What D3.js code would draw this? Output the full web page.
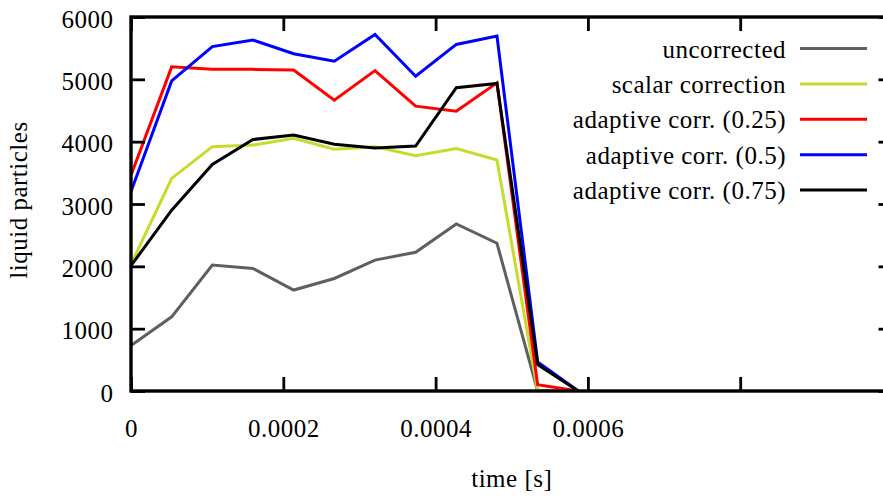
<!DOCTYPE html>
<html>
<head>
<meta charset="utf-8">
<script src="https://cdn.jsdelivr.net/npm/d3@7"></script>
<style>
  html, body { margin: 0; padding: 0; background: #fff; }
  svg { display: block; }
</style>
</head>
<body>
<svg id="chart" width="883" height="496" font-family="Liberation Serif, Times New Roman, serif"></svg>
<script>
// Sample times (s) and liquid particle counts per run
const times = [0, 0.0000534, 0.0001068, 0.0001602, 0.0002136, 0.000267, 0.0003204, 0.0003738, 0.0004272, 0.0004806, 0.000534, 0.0005874];
const uncorrected = [730, 1190, 2020, 1965, 1620, 1805, 2100, 2225, 2680, 2370, 0, 0];
const scalarCorrection = [2030, 3410, 3920, 3945, 4055, 3880, 3920, 3775, 3890, 3705, 0, 0];
const adaptive025 = [3460, 5200, 5160, 5160, 5150, 4665, 5140, 4570, 4490, 4945, 100, 0];
const adaptive05 = [3200, 4975, 5525, 5630, 5410, 5290, 5720, 5050, 5560, 5695, 465, 0];
const adaptive075 = [2010, 2900, 3635, 4035, 4105, 3960, 3900, 3930, 4865, 4935, 425, 0];

const seriesNames = ["uncorrected", "scalar correction", "adaptive corr. (0.25)", "adaptive corr. (0.5)", "adaptive corr. (0.75)"];
const seriesValues = [uncorrected, scalarCorrection, adaptive025, adaptive05, adaptive075];
const seriesColors = ["#5f5f5f", "#c8da2b", "#ff0000", "#0000ff", "#000000"];

const xTicks = [0, 0.0002, 0.0004, 0.0006, 0.0008, 0.001];
const xTickLabels = ["0", "0.0002", "0.0004", "0.0006", "", ""];
const yTicks = [0, 1000, 2000, 3000, 4000, 5000, 6000];

const svg = d3.select("#chart");
const margin = { left: 131, top: 17, right: 892.5, bottom: 391 };

const x = d3.scaleLinear().domain([0, 0.001]).range([margin.left, margin.right]);
const y = d3.scaleLinear().domain([0, 6000]).range([margin.bottom, margin.top]);

const tickLen = 14;
const fontSize = 25;
const serif = "Liberation Serif, Times New Roman, serif";

// Data lines (clipped to the frame)
svg.append("clipPath").attr("id", "plotClip")
  .append("rect")
  .attr("x", margin.left).attr("y", margin.top)
  .attr("width", margin.right - margin.left).attr("height", margin.bottom - margin.top);

const line = d3.line()
  .x((d, i) => x(times[i]))
  .y(d => y(d));

const plot = svg.append("g").attr("clip-path", "url(#plotClip)");
seriesValues.forEach((vals, k) => {
  plot.append("path")
    .datum(vals)
    .attr("d", line)
    .attr("fill", "none")
    .attr("stroke", seriesColors[k])
    .attr("stroke-width", 3)
    .attr("stroke-linejoin", "miter");
});

// Axes: ticks inward on all four sides
const axisG = svg.append("g");

const bottomAxis = d3.axisBottom(x).tickValues(xTicks).tickSizeInner(-tickLen).tickSizeOuter(0)
  .tickFormat((d, i) => xTickLabels[i]).tickPadding(28);
const topAxis = d3.axisTop(x).tickValues(xTicks).tickSizeInner(-tickLen).tickSizeOuter(0).tickFormat("");
const leftAxis = d3.axisLeft(y).tickValues(yTicks).tickSizeInner(-tickLen).tickSizeOuter(0)
  .tickFormat(d3.format("d"));
const rightAxis = d3.axisRight(y).tickValues(yTicks).tickSizeInner(-tickLen).tickSizeOuter(0).tickFormat("");

function styleAxis(g) {
  g.select(".domain").remove();
  g.attr("font-family", serif).attr("font-size", fontSize);
  g.selectAll(".tick line").attr("stroke", "#000").attr("stroke-width", 2.8);
  g.selectAll(".tick text")
    .attr("font-family", serif)
    .attr("font-size", fontSize)
    .attr("letter-spacing", 0.5)
    .attr("fill", "#000");
}

axisG.append("g").attr("transform", `translate(0,${margin.bottom})`).call(bottomAxis).call(styleAxis);
axisG.append("g").attr("transform", `translate(0,${margin.top})`).call(topAxis).call(styleAxis);
axisG.append("g").attr("transform", `translate(${margin.left},0)`).call(leftAxis).call(styleAxis)
  .selectAll(".tick text")
  .attr("x", -17.5)
  .attr("dy", "0.4em");
axisG.append("g").attr("transform", `translate(${margin.right},0)`).call(rightAxis).call(styleAxis);

// Frame
svg.append("rect")
  .attr("x", margin.left).attr("y", margin.top)
  .attr("width", margin.right - margin.left).attr("height", margin.bottom - margin.top)
  .attr("fill", "none").attr("stroke", "#000").attr("stroke-width", 3.4);

// Axis titles
svg.append("text")
  .attr("x", (margin.left + margin.right) / 2).attr("y", 487)
  .attr("text-anchor", "middle")
  .attr("font-family", serif).attr("font-size", fontSize).attr("letter-spacing", 0.5)
  .text("time [s]");

svg.append("text")
  .attr("transform", `translate(27,200) rotate(-90)`)
  .attr("text-anchor", "middle")
  .attr("font-family", serif).attr("font-size", fontSize).attr("letter-spacing", 0.5)
  .text("liquid particles");

// Legend
const legend = svg.append("g");
seriesNames.forEach((name, k) => {
  const ly = 48.5 + k * 35.4;
  legend.append("text")
    .attr("x", 786).attr("y", ly)
    .attr("dy", "0.36em")
    .attr("text-anchor", "end")
    .attr("font-family", serif).attr("font-size", fontSize).attr("letter-spacing", 0.5)
    .text(name);
  legend.append("line")
    .attr("x1", 800).attr("x2", 867)
    .attr("y1", ly).attr("y2", ly)
    .attr("stroke", seriesColors[k]).attr("stroke-width", 3);
});
</script>
</body>
</html>
